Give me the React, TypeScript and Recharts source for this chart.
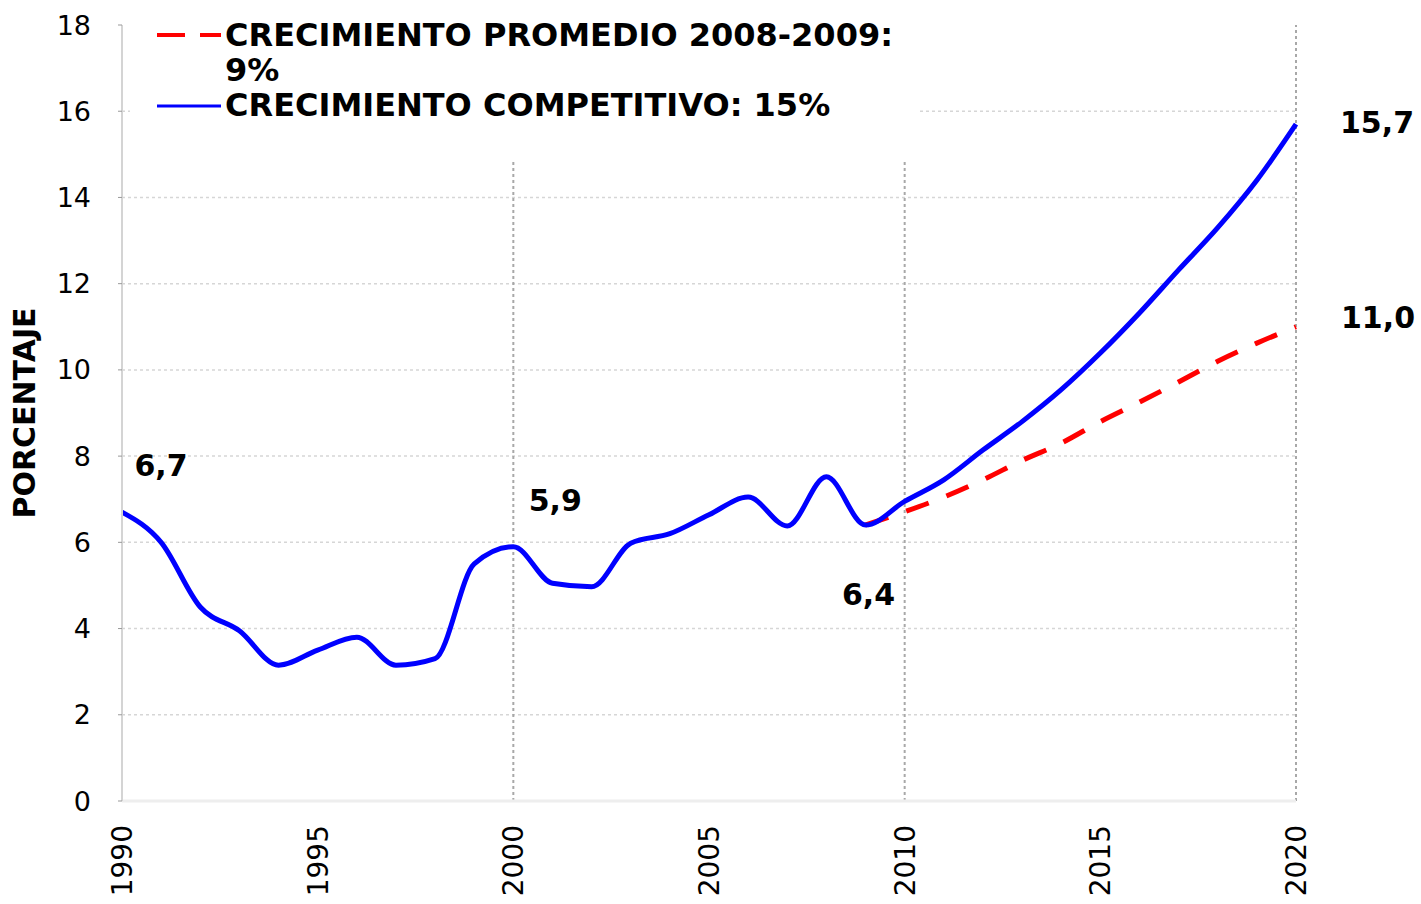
import React from 'react';
import { LineChart, Line, XAxis, YAxis, ReferenceLine, Legend, LabelList } from 'recharts';

const years = [
  1990, 1991, 1992, 1993, 1994, 1995, 1996, 1997, 1998, 1999,
  2000, 2001, 2002, 2003, 2004, 2005, 2006, 2007, 2008, 2009,
  2010, 2011, 2012, 2013, 2014, 2015, 2016, 2017, 2018, 2019, 2020,
];
const competitivo = [
  6.7, 6.0, 4.5, 3.95, 3.15, 3.5, 3.8, 3.15, 3.3, 5.5,
  5.9, 5.05, 4.97, 5.98, 6.2, 6.64, 7.05, 6.38, 7.52, 6.4,
  6.95, 7.45, 8.14, 8.8, 9.54, 10.39, 11.32, 12.32, 13.3, 14.4, 15.7,
];
const promedio = [
  null, null, null, null, null, null, null, null, null, null,
  null, null, null, null, null, null, null, null, null, 6.4,
  6.71, 7.05, 7.45, 7.9, 8.3, 8.8, 9.25, 9.72, 10.2, 10.62, 11.0,
];
const xTicks = [1990, 1995, 2000, 2005, 2010, 2015, 2020];
const yTicks = [0, 2, 4, 6, 8, 10, 12, 14, 16, 18];
const gridYears = [2000, 2010, 2020];
const gridValues = [2, 4, 6, 8, 10, 12, 14, 16];
const seriesNames = {
  promedio: 'CRECIMIENTO PROMEDIO 2008-2009: 9%',
  competitivo: 'CRECIMIENTO COMPETITIVO: 15%',
};
const labelledYearsCompetitivo = [1990, 2000, 2009, 2020];
const labelledYearsPromedio = [2020];
const yAxisTitle = 'PORCENTAJE';

const data = years.map((year, i) => ({
  year,
  competitivo: competitivo[i],
  promedio: promedio[i],
}));

const FONT = '"DejaVu Sans", Verdana, sans-serif';

// label offsets (style, not data)
const labelOffsets: Record<string, [number, number]> = {
  'competitivo-1990': [39, -36],
  'competitivo-2000': [42, -36],
  'competitivo-2009': [3, 80],
  'competitivo-2020': [81, 9],
  'promedio-2020': [82, 1],
};

const fmt = (v: number) => v.toFixed(1).replace('.', ',');

const makeLabel = (key: string, allowed: number[]) => (props: any) => {
  const { x, y, value, index } = props;
  const year = years[index];
  if (value == null || !allowed.includes(year)) return null;
  const off = labelOffsets[`${key}-${year}`] || [0, 0];
  return (
    <text
      x={x + off[0]}
      y={y + off[1]}
      textAnchor="middle"
      fontFamily={FONT}
      fontWeight="bold"
      fontSize={30}
      fill="#000"
    >
      {fmt(value)}
    </text>
  );
};

const XTick = (props: any) => {
  const { x, y, payload } = props;
  return (
    <text
      x={x}
      y={y}
      dy="0.36em"
      transform={`rotate(-90, ${x}, ${y})`}
      textAnchor="end"
      fontFamily={FONT}
      fontSize={28}
      fill="#000"
    >
      {payload.value}
    </text>
  );
};

const YTitle = (props: any) => {
  const vb = props.viewBox || { x: 0, y: 25, width: 122, height: 776 };
  const cx = vb.x + 35;
  const cy = vb.y + vb.height / 2;
  return (
    <text
      x={cx}
      y={cy}
      transform={`rotate(-90, ${cx}, ${cy})`}
      textAnchor="middle"
      fontFamily={FONT}
      fontWeight="bold"
      fontSize={30}
      fill="#000"
    >
      {yAxisTitle}
    </text>
  );
};

const LegendContent = (props: any) => {
  const payload: any[] = props.payload || [];
  const find = (k: string) => payload.find((p) => p.dataKey === k);
  const red = find('promedio');
  const blue = find('competitivo');
  return (
    <div
      style={{
        position: 'relative',
        width: 787,
        height: 160,
        background: '#fff',
        fontFamily: FONT,
        fontWeight: 'bold',
        fontSize: 32,
        color: '#000',
      }}
    >
      <svg style={{ position: 'absolute', left: 27, top: 31 }} width={64} height={8}>
        <line x1={0} y1={4} x2={64} y2={4} stroke={red ? red.color : '#ff0000'} strokeWidth={4} strokeDasharray="28 15" />
      </svg>
      <div style={{ position: 'absolute', left: 95, top: 18, width: 680, lineHeight: '35px' }}>
        {red ? red.value : seriesNames.promedio}
      </div>
      <svg style={{ position: 'absolute', left: 27, top: 102 }} width={64} height={8}>
        <line x1={0} y1={4} x2={64} y2={4} stroke={blue ? blue.color : '#0000ff'} strokeWidth={3} />
      </svg>
      <div style={{ position: 'absolute', left: 95, top: 88, width: 680, lineHeight: '35px' }}>
        {blue ? blue.value : seriesNames.competitivo}
      </div>
    </div>
  );
};

export default function App() {
  return (
    <div style={{ position: 'absolute', left: 0, top: 0, width: 1421, height: 904, background: '#fff' }}>
      <LineChart
        width={1421}
        height={904}
        data={data}
        margin={{ top: 25, right: 125, bottom: 0, left: 0 }}
      >
        {gridValues.map((v) => (
          <ReferenceLine key={`h${v}`} y={v} stroke="#d6d6d6" strokeWidth={1.5} strokeDasharray="3 3" />
        ))}
        {gridYears.map((yr) => (
          <ReferenceLine key={`v${yr}`} x={yr} stroke="#a8a8a8" strokeWidth={2} strokeDasharray="3 3" />
        ))}
        <XAxis
          dataKey="year"
          type="number"
          domain={[1990, 2020]}
          ticks={xTicks}
          interval={0}
          height={103}
          tickLine={false}
          tickSize={6}
          tickMargin={18}
          tick={<XTick />}
          axisLine={{ stroke: '#eeeeee', strokeWidth: 3 }}
        />
        <YAxis
          type="number"
          domain={[0, 18]}
          ticks={yTicks}
          interval={0}
          width={122}
          tickSize={4}
          tickMargin={27}
          tick={{ fill: '#000', fontSize: 27, fontFamily: FONT }}
          tickLine={{ stroke: '#999' }}
          axisLine={{ stroke: '#d4d4d4', strokeWidth: 2 }}
          label={{ value: yAxisTitle, content: <YTitle /> }}
        />
        <Legend
          layout="vertical"
          align="center"
          verticalAlign="middle"
          wrapperStyle={{ left: 130, top: 0, width: 787, height: 160 }}
          content={<LegendContent />}
        />
        <Line
          name={seriesNames.promedio}
          dataKey="promedio"
          type="monotone"
          stroke="#ff0000"
          strokeWidth={5}
          strokeDasharray="24 19"
          dot={false}
          activeDot={false}
          isAnimationActive={false}
        >
          <LabelList dataKey="promedio" content={makeLabel('promedio', labelledYearsPromedio)} />
        </Line>
        <Line
          name={seriesNames.competitivo}
          dataKey="competitivo"
          type="monotone"
          stroke="#0000ff"
          strokeWidth={5}
          dot={false}
          activeDot={false}
          isAnimationActive={false}
        >
          <LabelList dataKey="competitivo" content={makeLabel('competitivo', labelledYearsCompetitivo)} />
        </Line>
      </LineChart>
    </div>
  );
}
